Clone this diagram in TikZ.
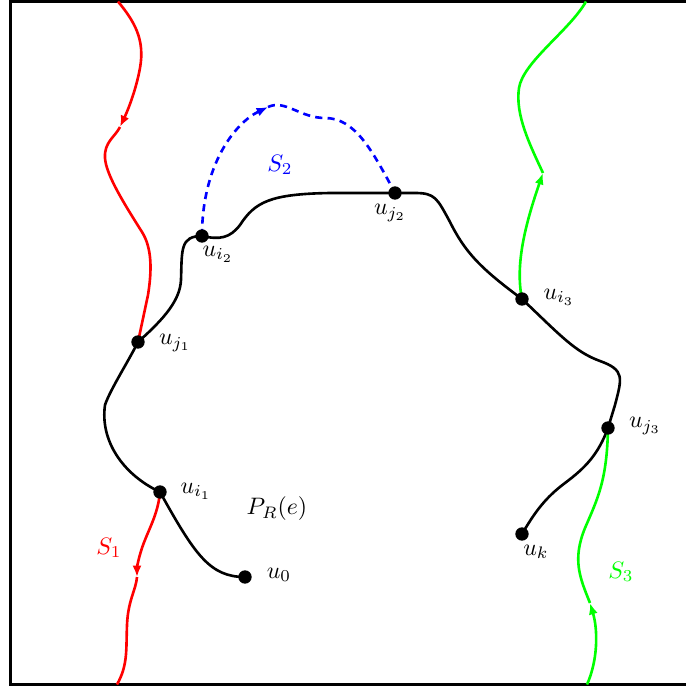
\documentclass[tikz,border=0pt]{standalone}
\usetikzlibrary{arrows.meta}
\begin{document}
\begin{tikzpicture}[x=0.42pt,y=-0.42pt,
  dot/.style={circle,fill=black,inner sep=0pt,minimum size=5.6pt},
  lbl/.style={inner sep=0pt},
  curve/.style={line width=1.1pt},
  frame/.style={line width=1.3pt},
  bluedash/.style={dash pattern=on 3pt off 2.2pt},
  tipend/.style={-{Latex[length=4.8pt,width=3.8pt]}}]
\useasboundingbox (0,0) rectangle (686,689);
\draw[frame] (686,1.5) -- (10.5,1.5) -- (10.5,684.5) -- (686,684.5);
% key points
\coordinate (u0) at (245,577);
\coordinate (ui1) at (160,492);
\coordinate (uj1) at (138,342);
\coordinate (ui2) at (202,236);
\coordinate (uj2) at (395,193);
\coordinate (ui3) at (522,299);
\coordinate (uj3) at (608,428);
\coordinate (uk) at (522,534);
\coordinate (s1top) at (118,1.5);
\coordinate (s1bot) at (117,684.5);
\coordinate (s3top) at (586,1.5);
\coordinate (s3bot) at (587,684.5);
\coordinate (a1) at (120,127);
\coordinate (a1b) at (137,577);
\coordinate (a2) at (268,107);
\coordinate (a3) at (543,173);
\coordinate (a3b) at (590,603);
% black path P_R(e)
\draw[curve] (u0) .. controls (210,577) and (195,555) .. (ui1)
  .. controls (122,474) and (100,440) .. (105,405)
  .. controls (110,390) and (128,362) .. (uj1)
  .. controls (165,318) and (180,300) .. (181,280)
  .. controls (182,250) and (180,236) .. (ui2)
  .. controls (220,240) and (230,238) .. (240,225)
  .. controls (255,202) and (270,194) .. (330,193) -- (uj2) -- (415,193)
  .. controls (435,193) and (437,198) .. (450,222)
  .. controls (465,252) and (480,268) .. (ui3)
  .. controls (560,335) and (575,352) .. (600,361)
  .. controls (625,370) and (622,378) .. (615,405) -- (uj3)
  .. controls (598,455) and (585,468) .. (565,483)
  .. controls (545,498) and (535,512) .. (uk);
% S1 red
\draw[curve,red,tipend] (s1top) .. controls (135,22) and (145,40) .. (140,68)
  .. controls (136,90) and (128,110) .. (a1);
\draw[curve,red] (a1) .. controls (115,137) and (104,142) .. (105,158)
  .. controls (106,175) and (125,205) .. (142,232)
  .. controls (152,248) and (152,270) .. (148,295) -- (uj1);
\draw[curve,red,tipend] (ui1) .. controls (158,515) and (148,530) .. (142,548)
  .. controls (138,560) and (137,568) .. (a1b);
\draw[curve,red] (a1b) .. controls (136,590) and (128,600) .. (127,625)
  .. controls (126,650) and (128,665) .. (s1bot);
% S2 blue dashed
\draw[curve,blue,bluedash,tipend] (ui2) .. controls (202,165) and (235,123) .. (a2);
\draw[curve,blue,bluedash] (a2) .. controls (285,99) and (300,118) .. (325,118)
  .. controls (355,118) and (372,150) .. (uj2);
% S3 green
\draw[curve,green,tipend] (ui3) .. controls (515,265) and (525,225) .. (a3);
\draw[curve,green] (a3) .. controls (530,145) and (515,115) .. (519,88)
  .. controls (523,62) and (570,30) .. (s3top);
\draw[curve,green,tipend] (s3bot) .. controls (598,660) and (598,630) .. (a3b);
\draw[curve,green] (a3b) .. controls (580,578) and (572,560) .. (585,528)
  .. controls (598,498) and (607,480) .. (uj3);
% dots
\node[dot] (d0) at (u0) {};
\node[dot] (di1) at (ui1) {};
\node[dot] (dj1) at (uj1) {};
\node[dot] (di2) at (ui2) {};
\node[dot] (dj2) at (uj2) {};
\node[dot] (di3) at (ui3) {};
\node[dot] (dj3) at (uj3) {};
\node[dot] (dk) at (uk) {};
% labels
\node[lbl] (l0) at (279,575) {$u_0$};
\node[lbl] (li1) at (196,491) {$u_{i_1}$};
\node[lbl] (lj1) at (175,343) {$u_{j_1}$};
\node[lbl] (li2) at (218,254) {$u_{i_2}$};
\node[lbl] (lj2) at (390,213) {$u_{j_2}$};
\node[lbl] (li3) at (559,297) {$u_{i_3}$};
\node[lbl] (lj3) at (645,426) {$u_{j_3}$};
\node[lbl] (lk) at (536,552) {$u_k$};
\node[lbl] (lp) at (277,509) {$P_R(e)$};
\node[lbl,red] (ls1) at (109,548) {$S_1$};
\node[lbl,blue] (ls2) at (280,165) {$S_2$};
\node[lbl,green] (ls3) at (621,572) {$S_3$};
\end{tikzpicture}
\end{document}
